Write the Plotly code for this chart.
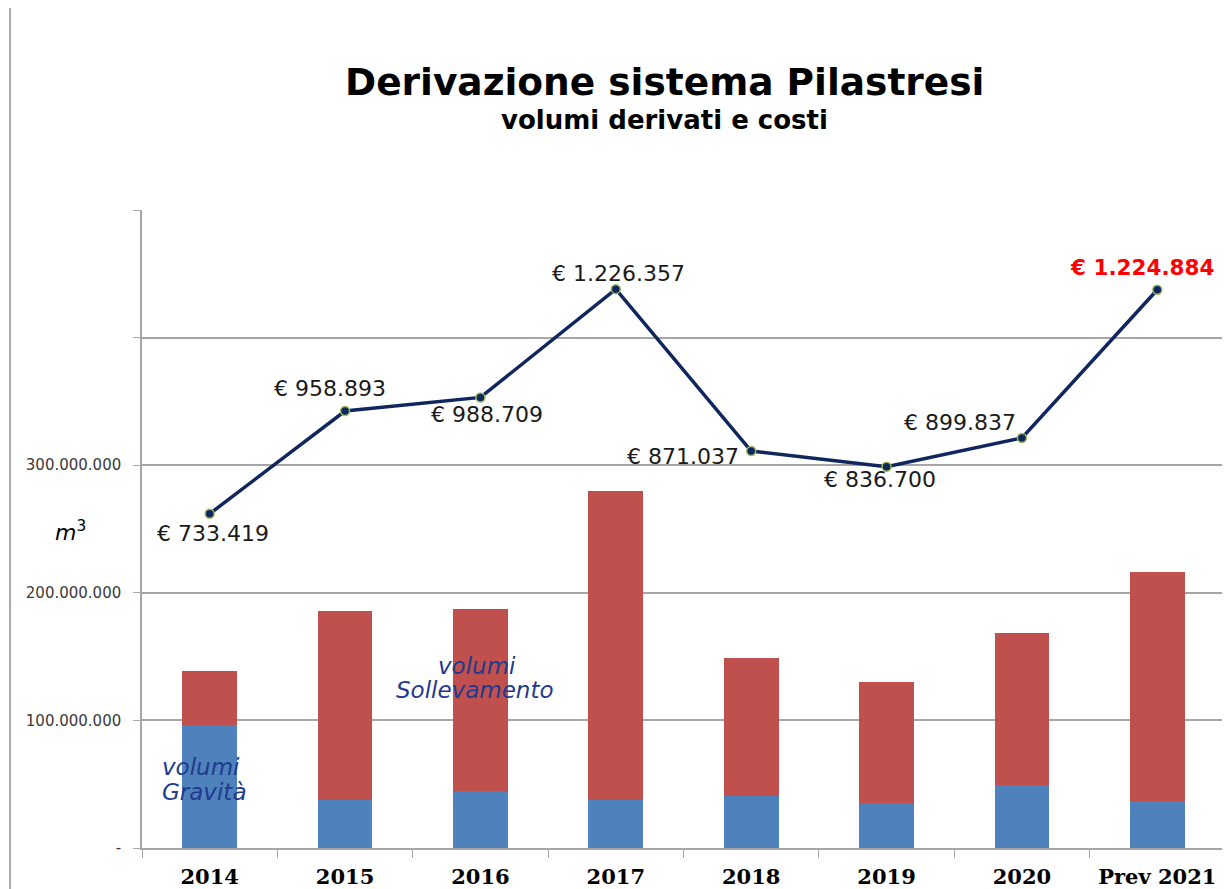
import plotly.graph_objects as go

categories = ["2014", "2015", "2016", "2017", "2018", "2019", "2020", "Prev 2021"]
volumi_gravita = [96_400_000, 37_600_000, 44_700_000, 37_600_000, 40_800_000, 35_300_000, 49_400_000, 36_800_000]
volumi_totali = [138_700_000, 185_700_000, 187_300_000, 279_800_000, 148_900_000, 130_100_000, 168_500_000, 216_300_000]
costi = [733419, 958893, 988709, 1226357, 871037, 836700, 899837, 1224884]
costi_labels = ["€ 733.419", "€ 958.893", "€ 988.709", "€ 1.226.357", "€ 871.037", "€ 836.700", "€ 899.837", "€ 1.224.884"]
y_tickvals = [0, 100_000_000, 200_000_000, 300_000_000, 400_000_000, 500_000_000]
y_ticktext = ["-", "100.000.000", "200.000.000", "300.000.000", "", ""]

volumi_sollevamento = [t - g for t, g in zip(volumi_totali, volumi_gravita)]

# label offsets (px) for the cost labels
label_shifts = [(3, -20), (-15, 23), (7, -17), (3, 16), (-68, -5), (-7, -13), (-62, 15), (-15, 22)]

GRID = "#a6a6a6"
SERIES_TXT = "#1f3a8f"
fig = go.Figure()
fig.add_trace(go.Bar(x=categories, y=volumi_gravita, marker_color="#4f81bd",
                     marker_line_width=0, name="volumi Gravità"))
fig.add_trace(go.Bar(x=categories, y=volumi_sollevamento, marker_color="#c0504d",
                     marker_line_width=0, name="volumi Sollevamento"))
fig.add_trace(go.Scatter(x=categories, y=costi, yaxis="y2", mode="lines+markers",
                         line=dict(color="#10265e", width=3.5),
                         marker=dict(size=9, color="#10265e", line=dict(color="#9bbb59", width=1.5)),
                         name="costi"))

annotations = []
for i, (v, t) in enumerate(zip(costi, costi_labels)):
    last = i == len(categories) - 1
    annotations.append(dict(
        x=i, y=v, xref="x", yref="y2", text=f"<b>{t}</b>" if last else t,
        xanchor="center", yanchor="middle",
        showarrow=False, xshift=label_shifts[i][0], yshift=label_shifts[i][1],
        font=dict(family="DejaVu Sans", size=22 if not last else 21.5,
                  color="#ff0000" if last else "#1a1a1a")))

def series_note(x, y, text, xshift):
    return dict(x=x, y=y, xref="x", yref="y", text=f"<i>{text}</i>", showarrow=False,
                xanchor="center", yanchor="middle", xshift=xshift,
                font=dict(family="DejaVu Sans", size=23, color=SERIES_TXT))

annotations += [
    dict(x=0.482, y=1.2006, xref="paper", yref="paper", text="<b>Derivazione sistema Pilastresi</b>",
         xanchor="center", yanchor="middle",
         showarrow=False, font=dict(family="DejaVu Sans", size=37.5, color="black")),
    dict(x=0.482, y=1.141, xref="paper", yref="paper", text="<b>volumi derivati e costi</b>",
         xanchor="center", yanchor="middle",
         showarrow=False, font=dict(family="DejaVu Sans", size=26, color="black")),
    dict(x=-0.0664, y=0.497, xref="paper", yref="paper", text="<i>m</i><sup>3</sup>",
         xanchor="center", yanchor="middle",
         showarrow=False, font=dict(family="DejaVu Sans", size=22, color="black")),
    series_note(0, 63_500_000, "volumi", -9),
    series_note(0, 43_900_000, "Gravità", -5),
    series_note(2, 142_600_000, "volumi", -3),
    series_note(2, 123_800_000, "Sollevamento", -5),
]

fig.update_layout(
    width=1222, height=881,
    margin=dict(l=134, r=5, t=202, b=41, autoexpand=False),
    paper_bgcolor="white", plot_bgcolor="white",
    barmode="stack", bargap=0.595,
    showlegend=False,
    annotations=annotations,
    shapes=[dict(type="line", xref="paper", yref="paper", x0=-0.1219, x1=-0.1219,
                 y0=-0.07, y1=1.34, line=dict(color="#8c8c8c", width=1.5))],
    xaxis=dict(type="category", range=[-0.5, 7.5], showgrid=False, showline=True,
               linecolor=GRID, linewidth=1.5,
               ticks="outside", ticklen=8, tickcolor=GRID, tickson="boundaries",
               ticklabelstandoff=9, automargin=False, tickangle=0,
               tickfont=dict(family="DejaVu Serif", size=21, color="black"),
               tickprefix="<b>", ticksuffix="</b>"),
    yaxis=dict(range=[0, 500_000_000], tickvals=y_tickvals, ticktext=y_ticktext,
               showgrid=True, gridcolor=GRID, gridwidth=1.5, zeroline=False,
               showline=True, linecolor=GRID, linewidth=1.5, automargin=False,
               ticks="outside", ticklen=7, tickcolor=GRID, ticklabelstandoff=9,
               tickfont=dict(family="DejaVu Sans", size=15, color="#3a3a3a")),
    yaxis2=dict(range=[0, 1_400_000], overlaying="y", side="right", showgrid=False,
                showticklabels=False, showline=True, linecolor=GRID, linewidth=1.5,
                zeroline=False, ticks=""),
)

fig.write_html("out.html")
